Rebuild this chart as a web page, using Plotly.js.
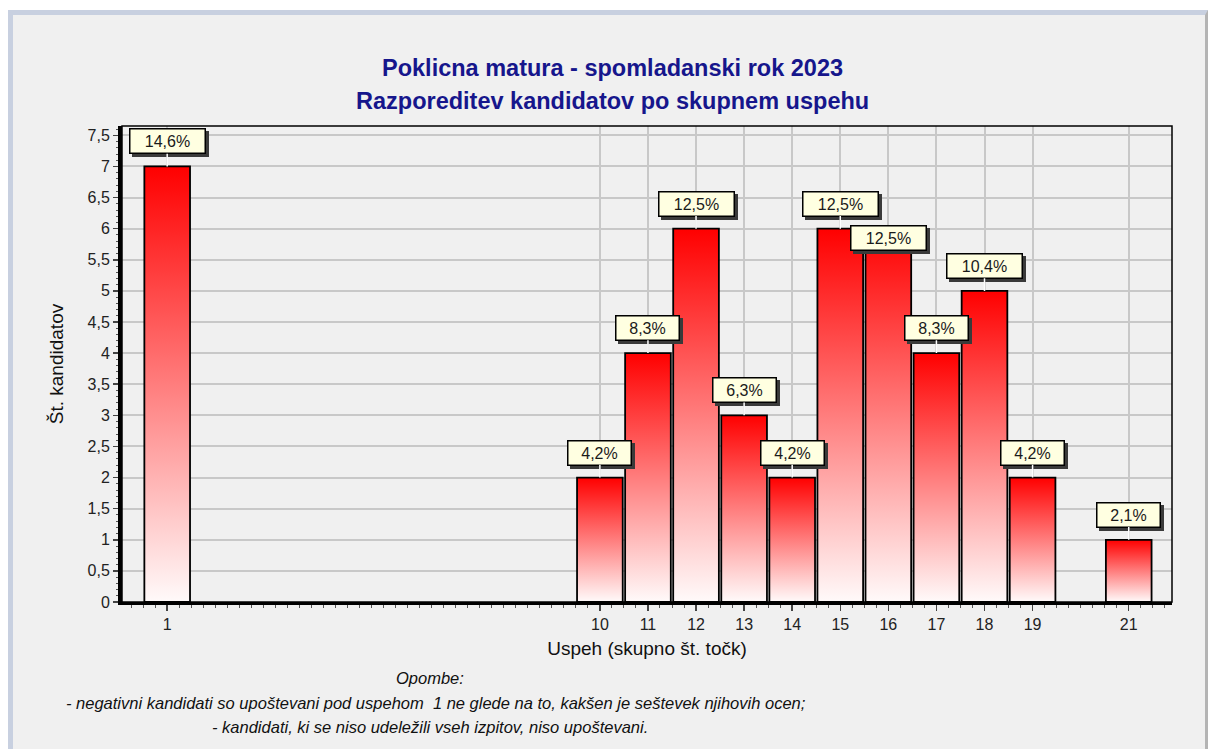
<!DOCTYPE html>
<html>
<head>
<meta charset="utf-8">
<script src="https://cdn.plot.ly/plotly-3.0.1.min.js"></script>
<style>
  html, body { margin: 0; padding: 0; background: #ffffff; overflow: hidden; width: 1208px; height: 749px; }
  #frame { position: absolute; left: 8px; top: 10px; width: 1192px; height: 760px;
           border-top: 5px solid #c8d0e0; border-left: 5px solid #c8d0e0; border-right: 3px solid #b4b4b4;
           background: #f0f0f0; }
  #chart { position: absolute; left: 0; top: 0; width: 1208px; height: 749px; }
</style>
</head>
<body>
<svg width="0" height="0" style="position:absolute">
  <defs>
    <linearGradient id="barGrad" x1="0" y1="0" x2="0" y2="1">
      <stop offset="0" stop-color="#ff0000"/>
      <stop offset="1" stop-color="#fffafa"/>
    </linearGradient>
  </defs>
</svg>
<div id="frame"></div>
<div id="chart"></div>
<script>
// ---- data ----
const scores = [1, 10, 11, 12, 13, 14, 15, 16, 17, 18, 19, 21];
const counts = [7, 2, 4, 6, 3, 2, 6, 6, 4, 5, 2, 1];
const percentLabels = ['14,6%', '4,2%', '8,3%', '12,5%', '6,3%', '4,2%', '12,5%', '12,5%', '8,3%', '10,4%', '4,2%', '2,1%'];
const tickLabels = ['1', '10', '11', '12', '13', '14', '15', '16', '17', '18', '19', '21'];

const titleLine1 = 'Poklicna matura - spomladanski rok 2023';
const titleLine2 = 'Razporeditev kandidatov po skupnem uspehu';
const xTitle = 'Uspeh (skupno št. točk)';
const yTitle = 'Št. kandidatov';
const notes = [
  'Opombe:',
  '- negativni kandidati so upoštevani pod uspehom  1 ne glede na to, kakšen je seštevek njihovih ocen;',
  '- kandidati, ki se niso udeležili vseh izpitov, niso upoštevani.'
];

// ---- drawing ----
const FONT = 'Liberation Sans, Arial, sans-serif';

const trace = {
  type: 'bar',
  x: scores,
  y: counts,
  width: 0.95,
  marker: { color: '#ff2020', line: { color: '#000000', width: 1.8 } },
  hoverinfo: 'skip'
};

// label box vertical offsets (px); the label at 16 is pushed down as in the original
function labelOffset(score) { return score === 16 ? 9 : -25; }

const annotations = [];
// shadows first (empty boxes of the same size)
scores.forEach((s, i) => {
  const w = percentLabels[i].length * 12 + 8;
  annotations.push({
    x: s, y: counts[i], xref: 'x', yref: 'y',
    text: '&nbsp;', showarrow: true, arrowhead: 0, arrowcolor: 'rgba(0,0,0,0)',
    ax: 0, ay: labelOffset(s), xshift: 3, yshift: -3,
    width: w, bgcolor: '#3a3a3a', bordercolor: '#3a3a3a', borderwidth: 1.5, borderpad: 3,
    font: { family: FONT, size: 16, color: 'rgba(0,0,0,0)' }
  });
});
scores.forEach((s, i) => {
  const w = percentLabels[i].length * 12 + 8;
  annotations.push({
    x: s, y: counts[i], xref: 'x', yref: 'y',
    text: percentLabels[i], showarrow: true, arrowhead: 0, arrowcolor: '#ffffff', arrowwidth: 1.5,
    ax: 0, ay: labelOffset(s),
    width: w, bgcolor: '#ffffe1', bordercolor: '#000000', borderwidth: 1.5, borderpad: 3,
    font: { family: FONT, size: 16, color: '#1a1a1a' }
  });
});
// titles
annotations.push({ xref: 'paper', yref: 'paper', x: 0.4667, y: 1.1218, xanchor: 'center', yanchor: 'middle',
  showarrow: false, text: '<b>' + titleLine1 + '</b>', font: { family: FONT, size: 23.5, color: '#16168c' } });
annotations.push({ xref: 'paper', yref: 'paper', x: 0.4667, y: 1.0525, xanchor: 'center', yanchor: 'middle',
  showarrow: false, text: '<b>' + titleLine2 + '</b>', font: { family: FONT, size: 23.5, color: '#16168c' } });
// notes
const noteY = [-0.1597, -0.2122, -0.2626];
const noteX = [0.2933, 0.2995, 0.2933];
notes.forEach((t, i) => {
  annotations.push({ xref: 'paper', yref: 'paper', x: noteX[i], y: noteY[i], xanchor: 'center', yanchor: 'middle',
    showarrow: false, text: '<i>' + t + '</i>', font: { family: FONT, size: 16.5, color: '#111111' } });
});

const layout = {
  width: 1208, height: 749,
  margin: { l: 122, r: 36, t: 126, b: 147 },
  paper_bgcolor: 'rgba(0,0,0,0)',
  plot_bgcolor: '#f0f0f0',
  separators: ',.',
  showlegend: false,
  bargap: 0,
  xaxis: {
    range: [0.06, 21.9],
    tickmode: 'array', tickvals: scores, ticktext: tickLabels,
    showgrid: true, gridcolor: '#c8c8c8', gridwidth: 2,
    zeroline: false,
    showline: true, linecolor: '#000000', linewidth: 3,
    ticks: 'outside', ticklen: 6, tickwidth: 1.5, tickcolor: '#444444',
    minor: { tickmode: 'linear', tick0: 0, dtick: 0.25, ticks: 'outside', ticklen: 3, tickwidth: 1, tickcolor: '#555555', showgrid: false },
    tickfont: { family: FONT, size: 16, color: '#222222' },
    title: { text: xTitle, font: { family: FONT, size: 19, color: '#111111' }, standoff: 10 },
    fixedrange: true
  },
  yaxis: {
    range: [0, 7.65],
    tickmode: 'linear', tick0: 0, dtick: 0.5,
    showgrid: true, gridcolor: '#c8c8c8', gridwidth: 2,
    zeroline: false,
    showline: true, linecolor: '#000000', linewidth: 4,
    ticks: 'outside', ticklen: 5, tickwidth: 1.5, tickcolor: '#444444',
    minor: { tickmode: 'linear', tick0: 0, dtick: 0.1, ticks: 'outside', ticklen: 2, tickwidth: 1, tickcolor: '#555555', showgrid: false },
    tickfont: { family: FONT, size: 16, color: '#222222' },
    title: { text: yTitle, font: { family: FONT, size: 19, color: '#111111' }, standoff: 20 },
    fixedrange: true
  },
  shapes: [
    { type: 'rect', xref: 'paper', yref: 'paper', x0: 0, x1: 1, y0: 0, y1: 1,
      line: { color: '#000000', width: 1.5 }, fillcolor: 'rgba(0,0,0,0)', layer: 'above' }
  ],
  annotations: annotations
};

function applyGradient() {
  document.querySelectorAll('#chart .barlayer .point path').forEach(p => {
    p.style.fill = 'url(#barGrad)';
    p.style.fillOpacity = '1';
  });
}

Plotly.newPlot('chart', [trace], layout, { staticPlot: true, displayModeBar: false }).then(applyGradient);
</script>
</body>
</html>
